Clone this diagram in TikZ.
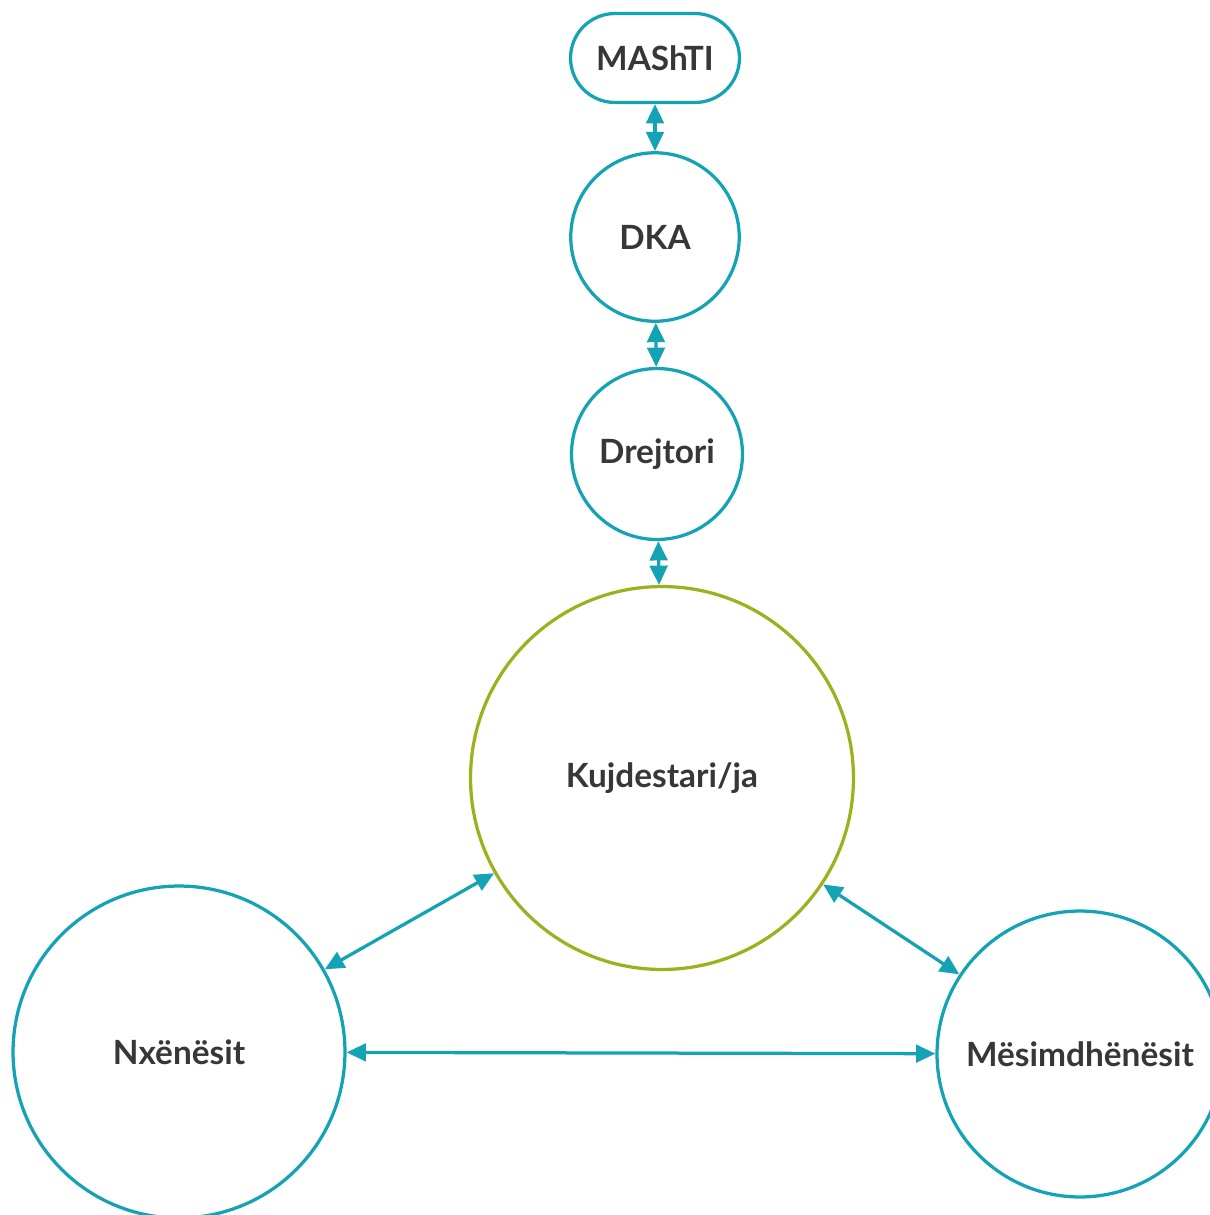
\documentclass[tikz,border=0pt]{standalone}
\usepackage{fontspec}
\setmainfont{Lato}
\usepackage{tikz}
\usetikzlibrary{arrows.meta,positioning}

\definecolor{tealline}{RGB}{20,163,180}
\definecolor{olivering}{RGB}{158,176,30}
\definecolor{darktext}{RGB}{55,55,55}

\begin{document}
\begin{tikzpicture}[
    x=0.02cm, y=-0.02cm,
    ring/.style={circle, draw=tealline, line width=0.065cm, inner sep=0pt, align=center, font=\fontsize{19}{22}\selectfont\bfseries, text=darktext},
    bigring/.style={ring, draw=olivering},
    pill/.style={rectangle, rounded corners=0.89cm, draw=tealline, line width=0.065cm, minimum width=3.38cm, minimum height=1.78cm, inner sep=0pt, font=\fontsize{19}{22}\selectfont\bfseries, text=darktext},
    link/.style={{Triangle[length=11pt,width=10pt]}-{Triangle[length=11pt,width=10pt]}, draw=tealline, line width=0.065cm}
]
    \useasboundingbox (0,0) rectangle (1210,1215);

    % Top chain
    \node[pill] (mashti) at (655,58) {MAShTI};
    \node[ring, minimum size=3.37cm] (dka) at (655,237) {DKA};
    \node[ring, minimum size=3.42cm] (drejtori) at (657,454) {Drejtori};

    % Centre
    \node[bigring, minimum size=7.66cm] (kujdestari) at (662,778) {Kujdestari/ja};

    % Bottom pair
    \node[ring, minimum size=6.64cm] (nxenesit) at (179,1052) {Nxënësit};
    \node[ring, minimum size=5.72cm] (mesimdhenesit) at (1080,1054) {Mësimdhënësit};

    \draw[link] (mashti) -- (dka);
    \draw[link] (dka) -- (drejtori);
    \draw[link] (drejtori) -- (kujdestari);
    \draw[link] (kujdestari) -- (nxenesit);
    \draw[link] (kujdestari) -- (mesimdhenesit);
    \draw[link] (nxenesit) -- (mesimdhenesit);

\end{tikzpicture}
\end{document}
